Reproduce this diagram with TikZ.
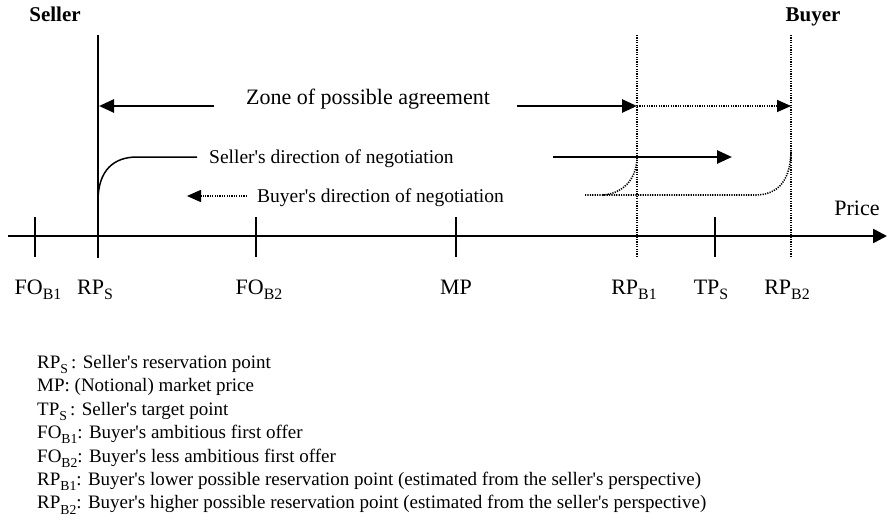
\documentclass[tikz,border=0pt]{standalone}
\usepackage{fontspec}
\setmainfont{Liberation Serif}
% a copy of the family without the TeX quote mapping, so ' stays straight
\newfontfamily\plainserif{Liberation Serif}
\usetikzlibrary{arrows.meta}
% index set smaller and dropped below the baseline
\newcommand\lowsub[1]{\raisebox{-0.27em}{\scalebox{0.72}{#1}}}
\begin{document}
\begin{tikzpicture}[x=1pt,y=-1pt,
  solidarrow/.style={line width=2.6pt,-{Triangle[length=15pt,width=13pt]}},
  dotline/.style={line width=1.6pt,dash pattern=on 1.2pt off 1.2pt},
  dotarrow/.style={dotline,-{Triangle[length=14pt,width=12pt]}},
  tick/.style={line width=2pt},
  axislabel/.style={font=\plainserif\fontsize{22}{24}\selectfont,anchor=base,inner sep=0pt},
  sidelabel/.style={font=\plainserif\fontsize{21}{24}\selectfont\bfseries,anchor=base,inner sep=0pt},
  zonelabel/.style={font=\plainserif\fontsize{22}{24}\selectfont,anchor=base,inner sep=0pt},
  dirlabel/.style={font=\plainserif\fontsize{19.5}{22}\selectfont,anchor=base west,inner sep=0pt},
  legendrow/.style={font=\plainserif\fontsize{19}{22}\selectfont,anchor=base west,inner sep=0pt}]
\useasboundingbox (0,0) rectangle (889,519);

% price axis
\coordinate (axL) at (8,236);
\coordinate (axR) at (887,236);
\draw[line width=2.6pt,-{Triangle[length=14pt,width=14pt]}] (axL) -- (axR);
\node[axislabel] (price) at (857,215) {Price};

% tick marks on the axis
\foreach \nm/\xx in {fob1/35,fob2/256,mp/456,tps/715}{
  \coordinate (\nm top) at (\xx,217);
  \coordinate (\nm bot) at (\xx,257);
  \draw[tick] (\nm top) -- (\nm bot);
}

% seller's reservation point (solid) and buyer's reservation points (dotted)
\coordinate (rpstop) at (98,35);
\coordinate (rpsbot) at (98,258);
\draw[tick] (rpstop) -- (rpsbot);
\coordinate (rpb1top) at (637,35);
\coordinate (rpb1bot) at (637,258);
\coordinate (rpb2top) at (791,35);
\coordinate (rpb2bot) at (791,258);
\draw[dotline] (rpb1top) -- (rpb1bot);
\draw[dotline] (rpb2top) -- (rpb2bot);

% axis labels
\node[axislabel] (lfob1) at (38,294) {FO\lowsub{B1}};
\node[axislabel] (lrps)  at (95,294) {RP\lowsub{S}};
\node[axislabel] (lfob2) at (259,294) {FO\lowsub{B2}};
\node[axislabel] (lmp)   at (456,294) {MP};
\node[axislabel] (lrpb1) at (634,294) {RP\lowsub{B1}};
\node[axislabel] (ltps)  at (711,294) {TP\lowsub{S}};
\node[axislabel] (lrpb2) at (787,294) {RP\lowsub{B2}};

% parties
\node[sidelabel] (seller) at (55,22) {Seller};
\node[sidelabel] (buyer) at (813,22) {Buyer};

% zone of possible agreement
\node[zonelabel] (zone) at (368,104) {Zone of possible agreement};
\coordinate (zoneL) at (214,106);
\coordinate (zoneLtip) at (99,106);
\coordinate (zoneR) at (517,106);
\coordinate (zoneM) at (637,106);
\coordinate (zoneRtip) at (791,106);
\draw[solidarrow] (zoneL) -- (zoneLtip);
\draw[solidarrow] (zoneR) -- (zoneM);
\draw[dotarrow] (zoneM) -- (zoneRtip);

% seller's direction of negotiation
\coordinate (sdStart) at (98,201);
\coordinate (sdBend) at (137,157);
\coordinate (sdEnd) at (197,157);
\draw[line width=1.5pt] (sdStart) .. controls (98,170) and (114,157) .. (sdBend) -- (sdEnd);
\node[dirlabel] (sdtext) at (209,163) {Seller's direction of negotiation};
\coordinate (sdArrS) at (553,157);
\coordinate (sdArrE) at (732,157);
\draw[solidarrow] (sdArrS) -- (sdArrE);

% buyer's direction of negotiation
\coordinate (bdS) at (247,196);
\coordinate (bdE) at (187,196);
\draw[dotarrow] (bdS) -- (bdE);
\node[dirlabel] (bdtext) at (257,202) {Buyer's direction of negotiation};
\coordinate (bdLine0) at (585,195);
\coordinate (bdLine1) at (757,195);
\coordinate (bdTop2) at (791,150);
\coordinate (bdBranch) at (603,195);
\coordinate (bdTop1) at (637,157);
\draw[dotline] (bdLine0) -- (bdLine1) .. controls (784,194) and (791,172) .. (bdTop2);
\draw[dotline] (bdBranch) .. controls (626,193) and (637,176) .. (bdTop1);

% legend
\node[legendrow] (leg1) at (37,368.5) {RP\lowsub{S}\,: Seller's reservation point};
\node[legendrow] (leg2) at (37,391.9) {MP: (Notional) market price};
\node[legendrow] (leg3) at (37,415.3) {TP\lowsub{S}\,: Seller's target point};
\node[legendrow] (leg4) at (37,438.7) {FO\lowsub{B1}: Buyer's ambitious first offer};
\node[legendrow] (leg5) at (37,462.1) {FO\lowsub{B2}: Buyer's less ambitious first offer};
\node[legendrow] (leg6) at (37,485.5) {RP\lowsub{B1}: Buyer's lower possible reservation point (estimated from the seller's perspective)};
\node[legendrow] (leg7) at (37,508.9) {RP\lowsub{B2}: Buyer's higher possible reservation point (estimated from the seller's perspective)};
\end{tikzpicture}
\end{document}
